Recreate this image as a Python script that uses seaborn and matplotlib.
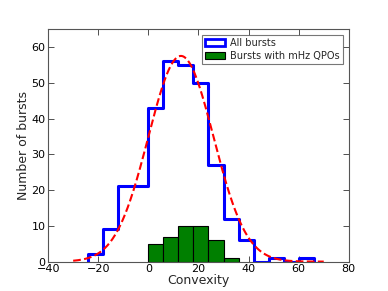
import numpy as np
import pandas as pd
import matplotlib
matplotlib.use("Agg")
import matplotlib.pyplot as plt
from matplotlib.patches import Patch
import seaborn as sns

# bin edges (convexity) and counts
bin_edges = [-24, -18, -12, -6, 0, 6, 12, 18, 24, 30, 36, 42, 48, 54, 60, 66]
all_counts = [2, 9, 21, 21, 43, 56, 55, 50, 27, 12, 6, 0, 1, 0, 1]
qpo_edges = [0, 6, 12, 18, 24, 30, 36]
qpo_counts = [5, 7, 10, 10, 6, 1]

# gaussian fit to the full sample
fit_amp = 57.5
fit_mean = 13.0
fit_sigma = 13.0
fit_range = [-30, 70]

sns.set_style("white")
plt.rcParams["font.family"] = ["DejaVu Sans"]
plt.rcParams.update({
    "xtick.direction": "in", "ytick.direction": "in",
    "xtick.top": True, "ytick.right": True,
    "xtick.major.size": 4, "ytick.major.size": 4,
    "xtick.bottom": True, "ytick.left": True,
})

centers_all = [(a + b) / 2 for a, b in zip(bin_edges[:-1], bin_edges[1:])]
centers_qpo = [(a + b) / 2 for a, b in zip(qpo_edges[:-1], qpo_edges[1:])]
df_all = pd.DataFrame({"convexity": centers_all, "n": all_counts})
df_qpo = pd.DataFrame({"convexity": centers_qpo, "n": qpo_counts})

fig = plt.figure(figsize=(3.88, 2.91), dpi=100)
ax = fig.add_axes([0.124, 0.101, 0.775, 0.799])

sns.histplot(data=df_all, x="convexity", weights="n", bins=bin_edges,
             element="step", fill=False, color="#0000ff", linewidth=2.2, ax=ax)
# close the outline down to the baseline at both ends, like a step histogram
step = ax.lines[-1]
sx, sy = step.get_data()
sx = np.concatenate([[sx[0]], sx, [sx[-1]]])
sy = np.concatenate([[0], sy, [0]])
step.set_data(sx, sy)

sns.histplot(data=df_qpo, x="convexity", weights="n", bins=qpo_edges,
             element="bars", color="#007f00", edgecolor="black", linewidth=0.8,
             alpha=1, ax=ax)

xs = np.linspace(fit_range[0], fit_range[1], 300)
ys = fit_amp * np.exp(-(xs - fit_mean) ** 2 / (2 * fit_sigma ** 2))
sns.lineplot(x=xs, y=ys, color="red", linestyle="--", linewidth=1.5, ax=ax)

ax.set_xlim(-40, 80)
ax.set_ylim(0, 65)
ax.set_xticks(range(-40, 81, 20))
ax.set_yticks(range(0, 61, 10))
ax.tick_params(labelsize=8, width=0.6, colors="#333333", labelcolor="black", pad=2)
for s in ax.spines.values():
    s.set_color("#555555")
    s.set_linewidth(0.8)
ax.set_xlabel("Convexity", fontsize=9, labelpad=0)
ax.set_ylabel("Number of bursts", fontsize=9, labelpad=1)

handles = [Patch(facecolor="white", edgecolor="#0000ff", linewidth=2),
           Patch(facecolor="#007f00", edgecolor="black", linewidth=0.8)]
leg = ax.legend(handles, ["All bursts", "Bursts with mHz QPOs"], loc="upper right",
                fontsize=7, frameon=True, fancybox=False, borderaxespad=0.6,
                handlelength=2.0, handletextpad=0.6, borderpad=0.3, labelspacing=0.3)
leg.get_frame().set_edgecolor("#555555")
leg.get_frame().set_linewidth(0.8)

fig.savefig("out.png", dpi=100)
